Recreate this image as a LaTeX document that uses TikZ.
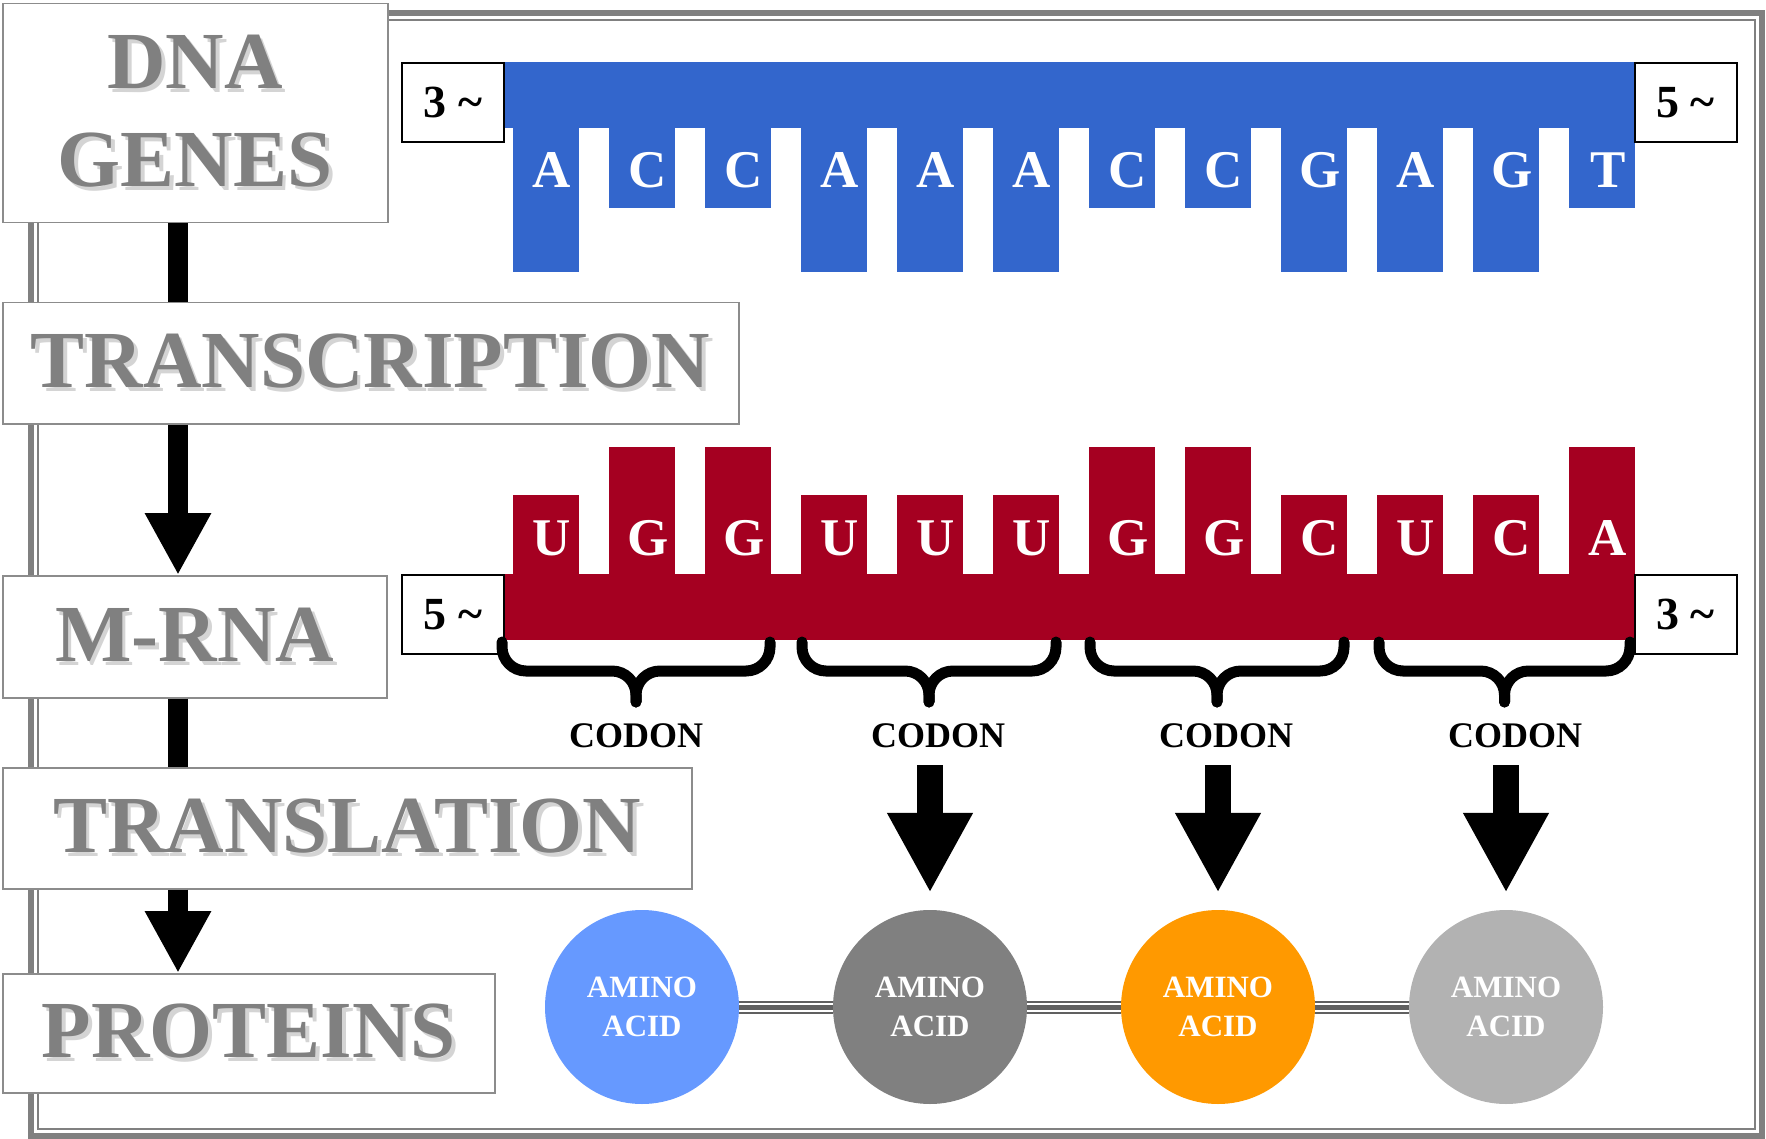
\documentclass[tikz,border=0pt]{standalone}
\usepackage{fontspec}
\setmainfont{Liberation Serif}
\usetikzlibrary{arrows.meta,positioning}
\definecolor{dnablue}{RGB}{51,102,204}
\definecolor{rnared}{RGB}{165,0,33}
\definecolor{framegray}{RGB}{128,128,128}
\definecolor{boxgray}{RGB}{140,140,140}
\definecolor{stagegray}{RGB}{128,128,128}
\definecolor{shadegray}{RGB}{212,212,212}
\definecolor{linkgray}{RGB}{96,96,96}
\definecolor{aablue}{RGB}{102,153,255}
\definecolor{aagray}{RGB}{128,128,128}
\definecolor{aaorange}{RGB}{255,153,0}
\definecolor{aalight}{RGB}{178,178,178}
\newcommand{\shtext}[1]{\leavevmode\rlap{\kern3.5pt\raisebox{-3.5pt}{\color{shadegray}#1}}#1}
\begin{document}
\begin{tikzpicture}[x=1pt,y=-1pt,
  stagebox/.style={draw=boxgray,line width=1.5pt,fill=white,text=stagegray,align=center,inner sep=0pt,anchor=north west,font=\fontsize{81}{98}\selectfont\bfseries},
  endbox/.style={draw=black,line width=2pt,fill=white,minimum width=102pt,minimum height=79pt,inner sep=0pt,font=\fontsize{46}{46}\selectfont\bfseries},
  base/.style={text=white,inner sep=0pt,font=\fontsize{53}{53}\selectfont\bfseries},
  spine/.style={line width=20pt},
  codonbrace/.style={line width=11pt,line cap=round,rounded corners=24pt},
  codonarrow/.style={line width=26pt,-{Triangle[width=80pt,length=80pt]}},
  amino/.style={circle,minimum size=194pt,inner sep=0pt,text=white,align=center,font=\fontsize{31}{39}\selectfont\bfseries},
  aalink/.style={draw=linkgray,line width=2pt,double=white,double distance=9pt}]
\useasboundingbox (0,0) rectangle (1766,1139);
\def\xo{513}   % left edge of first base
\def\pitch{96}
\def\tw{66}
% frame
\draw[framegray,line width=6pt] (31,13) rectangle (1762,1136);
\draw[framegray,line width=2pt] (38,20) rectangle (1755,1129);
% stages
\node[stagebox,minimum width=385pt,minimum height=219pt] (dna) at (2,3) {\shtext{DNA}\\\shtext{GENES}};
\node[stagebox,minimum width=736pt,minimum height=121pt] (transc) at (2,302) {\shtext{TRANSCRIPTION}};
\node[stagebox,minimum width=384pt,minimum height=122pt] (mrna) at (2,575) {\shtext{M-RNA}};
\node[stagebox,minimum width=689pt,minimum height=121pt] (transl) at (2,767) {\shtext{TRANSLATION}};
\node[stagebox,minimum width=492pt,minimum height=119pt] (prot) at (2,973) {\shtext{PROTEINS}};
\coordinate (axis) at (178,0);
\draw[spine] (axis |- dna.south) -- (axis |- transc.north);
\draw[spine,-{Triangle[width=62pt,length=62pt]}] (axis |- transc.south) -- (axis |- mrna.north);
\draw[spine] (axis |- mrna.south) -- (axis |- transl.north);
\draw[spine,-{Triangle[width=62pt,length=62pt]}] (axis |- transl.south) -- (axis |- prot.north);
% DNA strand
\fill[dnablue] (504,62) rectangle (1635,128);
\foreach \b/\e [count=\i from 0] in {A/272,C/208,C/208,A/272,A/272,A/272,C/208,C/208,G/272,A/272,G/272,T/208}{
  \fill[dnablue] (\xo+\i*\pitch,127) rectangle (\xo+\i*\pitch+\tw,\e);
  \node[base] (d\i) at (\xo+\i*\pitch+39,170) {\b};
}
\node[endbox] (d3end) at (453,102.5) {3 \textasciitilde};
\node[endbox] (d5end) at (1685.5,102.5) {5 \textasciitilde};
% m-RNA strand
\fill[rnared] (504,574) rectangle (1635,640);
\foreach \b/\e [count=\i from 0] in {U/495,G/447,G/447,U/495,U/495,U/495,G/447,G/447,C/495,U/495,C/495,A/447}{
  \fill[rnared] (\xo+\i*\pitch,\e) rectangle (\xo+\i*\pitch+\tw,575);
  \node[base] (r\i) at (\xo+\i*\pitch+39,538) {\b};
}
\node[endbox] (r5end) at (453,614.5) {5 \textasciitilde};
\node[endbox] (r3end) at (1685.5,614.5) {3 \textasciitilde};
% codons
\foreach \a/\b [count=\k] in {502/770,802/1056,1090/1344,1379/1630}{
  \pgfmathsetmacro{\m}{(\a+\b)/2}
  \draw[codonbrace] (\a,642) -- (\a,671) -- (\m,671) -- (\m,702);
  \draw[codonbrace] (\b,642) -- (\b,671) -- (\m,671) -- (\m,702);
}
\foreach \x [count=\k] in {636,938,1226,1515}
  \node[inner sep=0pt,font=\fontsize{36}{36}\selectfont\bfseries] (cod\k) at (\x,736) {CODON};
% amino acids
\node[amino,fill=aablue] (aa1) at (642,1007) {AMINO\\ACID};
\node[amino,fill=aagray] (aa2) at (930,1007) {AMINO\\ACID};
\node[amino,fill=aaorange] (aa3) at (1218,1007) {AMINO\\ACID};
\node[amino,fill=aalight] (aa4) at (1506,1007) {AMINO\\ACID};
\foreach \p/\q in {aa1/aa2,aa2/aa3,aa3/aa4}{
  \draw[aalink] (\p) -- (\q);
  \draw[linkgray,line width=5pt] (\p) -- (\q);
}
\foreach \k in {2,3,4}
  \draw[codonarrow,shorten <=17pt,shorten >=17pt] (aa\k |- cod\k.south) -- (aa\k.north);
\end{tikzpicture}
\end{document}
